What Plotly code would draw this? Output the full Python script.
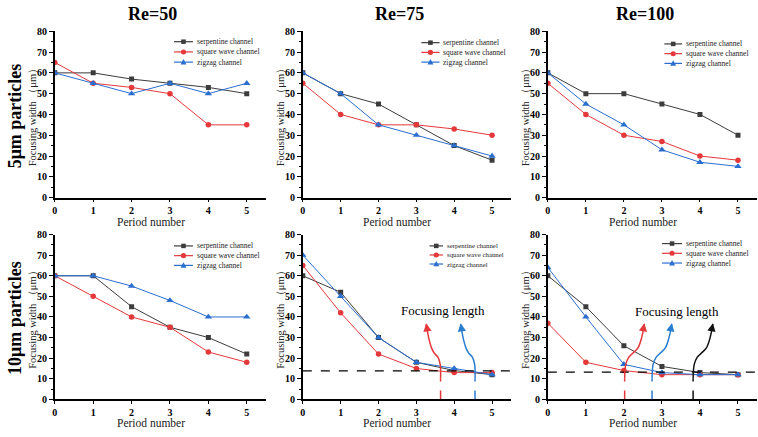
import plotly.graph_objects as go
from plotly.subplots import make_subplots

W, H = 758, 437

# ---------------- data ----------------
periods = [0, 1, 2, 3, 4, 5]
x_tick_labels = ["0", "1", "2", "3", "4", "5"]
y_tick_values = [0, 10, 20, 30, 40, 50, 60, 70, 80]
re_titles = ["Re=50", "Re=75", "Re=100"]
row_titles = ["5μm particles", "10μm particles"]
channel_names = ["serpentine channel", "square wave channel", "zigzag channel"]

# 5 um particles
serp_5_re50 = [60, 60, 57, 55, 53, 50]
sq_5_re50 = [65, 55, 53, 50, 35, 35]
zz_5_re50 = [60, 55, 50, 55, 50, 55]
serp_5_re75 = [60, 50, 45, 35, 25, 18]
sq_5_re75 = [55, 40, 35, 35, 33, 30]
zz_5_re75 = [60, 50, 35, 30, 25, 20]
serp_5_re100 = [60, 50, 50, 45, 40, 30]
sq_5_re100 = [55, 40, 30, 27, 20, 18]
zz_5_re100 = [60, 45, 35, 23, 17, 15]
# 10 um particles
serp_10_re50 = [60, 60, 45, 35, 30, 22]
sq_10_re50 = [60, 50, 40, 35, 23, 18]
zz_10_re50 = [60, 60, 55, 48, 40, 40]
serp_10_re75 = [60, 52, 30, 18, 14, 12]
sq_10_re75 = [65, 42, 22, 15, 13, 13]
zz_10_re75 = [70, 50, 30, 18, 15, 12]
serp_10_re100 = [60, 45, 26, 16, 13, 12]
sq_10_re100 = [37, 18, 14, 12, 12, 12]
zz_10_re100 = [64, 40, 17, 13, 12, 12]

# focusing-length threshold (dashed line) and the period where it is reached
threshold_10_re75 = 13.8
threshold_10_re100 = 13.2
focus_len_10_re75 = {"square wave channel": 3.64, "zigzag channel": 4.55}
focus_len_10_re100 = {"square wave channel": 2.02, "zigzag channel": 2.74,
                      "serpentine channel": 3.82}

# curly arrow paths (annotation decoration): offsets relative to the focusing point
arrow_dx_left = [0.0, -0.01, -0.07, -0.17, -0.24, -0.31, -0.38]
arrow_dx_right = [0.0, 0.03, 0.11, 0.22, 0.35, 0.44, 0.52]
arrow_y = [10, 17, 20.5, 22.5, 25, 29.5, 36.5]

panels = [
    # (row, col, [serp, square, zigzag])
    (1, 1, [serp_5_re50, sq_5_re50, zz_5_re50]),
    (1, 2, [serp_5_re75, sq_5_re75, zz_5_re75]),
    (1, 3, [serp_5_re100, sq_5_re100, zz_5_re100]),
    (2, 1, [serp_10_re50, sq_10_re50, zz_10_re50]),
    (2, 2, [serp_10_re75, sq_10_re75, zz_10_re75]),
    (2, 3, [serp_10_re100, sq_10_re100, zz_10_re100]),
]

# ---------------- style ----------------
SERIF = "Liberation Serif, Times New Roman, serif"
colors = {"serpentine channel": "#3c3c3c", "square wave channel": "#e5383b",
          "zigzag channel": "#2a6fd0"}
arrow_colors = {"serpentine channel": "#111111", "square wave channel": "#e5383b",
                "zigzag channel": "#2a7ed0"}
symbols = {"serpentine channel": "square", "square wave channel": "circle",
           "zigzag channel": "triangle-up"}
msize = {"serpentine channel": 5, "square wave channel": 5.5, "zigzag channel": 6.5}


def px(x):
    return x / W


def py(y):
    return 1 - y / H


col_dom = [(52, 264), (301, 510), (547, 757)]
row_dom = [(26, 197), (235, 404.5)]

fig = make_subplots(rows=2, cols=3)

for (r, c, series) in panels:
    for name, vals in zip(channel_names, series):
        fig.add_trace(go.Scatter(
            x=periods, y=vals, mode="lines+markers", name=name, showlegend=False,
            line=dict(color=colors[name], width=1),
            marker=dict(symbol=symbols[name], size=msize[name], color=colors[name]),
        ), row=r, col=c)

shapes = []
annotations = []


def add_focus(row, col, thr, points, axn):
    fig.add_trace(go.Scatter(x=[0, 5.5], y=[thr, thr], mode="lines", showlegend=False,
                             line=dict(color="black", width=1.2, dash="dash"),
                             hoverinfo="skip"), row=row, col=col)
    for name, xf in points.items():
        col_ = arrow_colors[name]
        dx = arrow_dx_left if (row == 2 and col == 2) else arrow_dx_right
        xs = [xf + d for d in dx]
        fig.add_trace(go.Scatter(x=[xf, xf], y=[0, arrow_y[0]], mode="lines", showlegend=False,
                                 line=dict(color=col_, width=1.5, dash="dash"),
                                 hoverinfo="skip"), row=row, col=col)
        fig.add_trace(go.Scatter(x=xs, y=arrow_y, mode="lines", showlegend=False,
                                 line=dict(color=col_, width=1.5, shape="spline", smoothing=1.0),
                                 hoverinfo="skip"), row=row, col=col)
        annotations.append(dict(
            x=xs[-1], y=arrow_y[-1] + 0.5, ax=xs[-2] + (xs[-1] - xs[-2]) * 0.6,
            ay=arrow_y[-2] + (arrow_y[-1] - arrow_y[-2]) * 0.6,
            xref="x" + axn, yref="y" + axn, axref="x" + axn, ayref="y" + axn,
            text="", showarrow=True, arrowhead=2, arrowsize=1.1, arrowwidth=1.5,
            arrowcolor=col_))


add_focus(2, 2, threshold_10_re75, focus_len_10_re75, "5")
add_focus(2, 3, threshold_10_re100, focus_len_10_re100, "6")

# axes
for i in range(6):
    r, c = divmod(i, 3)
    sfx = "" if i == 0 else str(i + 1)
    x0, x1 = col_dom[c]
    t, b = row_dom[r]
    fig.layout["xaxis" + sfx].update(
        domain=[px(x0), px(x1)], range=[0, 5.5], tickvals=periods, ticktext=x_tick_labels,
        showline=True, linecolor="black", linewidth=1.5, ticks="outside", ticklen=3,
        tickwidth=1.2, tickcolor="black", showgrid=False, zeroline=False,
        tickfont=dict(family=SERIF, size=10, color="black", weight="bold"),
        anchor="y" + sfx, fixedrange=True)
    fig.layout["yaxis" + sfx].update(
        domain=[py(b), py(t)], range=[0, 80], tickvals=y_tick_values,
        showline=True, linecolor="black", linewidth=1.5, ticks="outside", ticklen=4,
        tickwidth=1.2, tickcolor="black", showgrid=False, zeroline=False,
        minor=dict(ticks="outside", ticklen=2, tickwidth=1, tickcolor="black", dtick=5),
        tickfont=dict(family=SERIF, size=10, color="black", weight="bold"),
        anchor="x" + sfx, fixedrange=True)

    # axis titles
    annotations.append(dict(text="Period number", x=px((x0 + x0 + 5 * (x1 - x0) / 5.5) / 2),
                            y=py(b + 25.5 if r == 0 else b + 24.5), xref="paper", yref="paper",
                            showarrow=False, xanchor="center", yanchor="middle",
                            font=dict(family=SERIF, size=11.5, color="#222")))
    annotations.append(dict(text="Focusing width （μm）", x=px(x0 - 22), y=py((t + b) / 2),
                            xref="paper", yref="paper", showarrow=False, textangle=-90,
                            xanchor="center", yanchor="middle",
                            font=dict(family=SERIF, size=10.5, color="#222")))

# column titles
for c, title in enumerate(re_titles):
    x0, x1 = col_dom[c]
    annotations.append(dict(text="<b>%s</b>" % title, x=px((x0 + x0 + 5 * (x1 - x0) / 5.5) / 2 + 2),
                            y=py(8.5), xref="paper", yref="paper", showarrow=False,
                            xanchor="center", yanchor="middle",
                            font=dict(family=SERIF, size=18, color="black")))
# row titles
for r, title in enumerate(row_titles):
    t, b = row_dom[r]
    annotations.append(dict(text="<b>%s</b>" % title, x=px(12), y=py((t + b) / 2 + 1),
                            xref="paper", yref="paper", showarrow=False, textangle=-90,
                            xanchor="center", yanchor="middle",
                            font=dict(family=SERIF, size=18, color="black")))

# "Focusing length" labels
for axn, (xt, yt) in (("5", (3.7, 43)), ("6", (3.4, 42.5))):
    annotations.append(dict(text="Focusing length", x=xt, y=yt, xref="x" + axn, yref="y" + axn,
                            showarrow=False, xanchor="center", yanchor="middle",
                            font=dict(family=SERIF, size=13, color="black")))

# legends (drawn as keys + text)
legend_pos = [  # line start, line end, text x, row ys, font size
    (171.7, 190.7, 193, [36.7, 47.2, 57.7], 7.5),
    (420, 438.3, 440, [37.7, 47.7, 57.7], 7.5),
    (664, 681.7, 684, [39, 49, 59], 7.5),
    (171.7, 190.7, 193, [246.7, 256.7, 266.7], 7.5),
    (428.3, 441.7, 443.3, [246.7, 256, 265.3], 6.8),
    (661.7, 681.7, 684, [244.3, 254.3, 264.3], 7.5),
]
for (l0, l1, tx, ys, fs) in legend_pos:
    for name, yy in zip(channel_names, ys):
        colr = colors[name]
        shapes.append(dict(type="line", xref="paper", yref="paper", x0=px(l0), x1=px(l1),
                           y0=py(yy), y1=py(yy), line=dict(color=colr, width=1.2)))
        mx = (l0 + l1) / 2
        if name == "serpentine channel":
            shapes.append(dict(type="rect", xref="paper", yref="paper",
                               x0=px(mx - 2.3), x1=px(mx + 2.3), y0=py(yy + 2.3), y1=py(yy - 2.3),
                               fillcolor=colr, line=dict(width=0)))
        elif name == "square wave channel":
            shapes.append(dict(type="circle", xref="paper", yref="paper",
                               x0=px(mx - 2.6), x1=px(mx + 2.6), y0=py(yy + 2.6), y1=py(yy - 2.6),
                               fillcolor=colr, line=dict(width=0)))
        else:
            path = "M %f,%f L %f,%f L %f,%f Z" % (px(mx - 3), py(yy + 2.4), px(mx + 3), py(yy + 2.4),
                                                  px(mx), py(yy - 3.2))
            shapes.append(dict(type="path", xref="paper", yref="paper", path=path,
                               fillcolor=colr, line=dict(width=0)))
        annotations.append(dict(text=name, x=px(tx), y=py(yy), xref="paper", yref="paper",
                                showarrow=False, xanchor="left", yanchor="middle",
                                font=dict(family=SERIF, size=fs, color="#222")))

fig.update_layout(
    width=W, height=H, margin=dict(l=0, r=0, t=0, b=0),
    paper_bgcolor="white", plot_bgcolor="white", showlegend=False,
    shapes=shapes, annotations=annotations,
)

fig.write_html("out.html", config={"displayModeBar": False},
               post_script="document.body.style.margin='0';document.body.style.overflow='hidden';")
